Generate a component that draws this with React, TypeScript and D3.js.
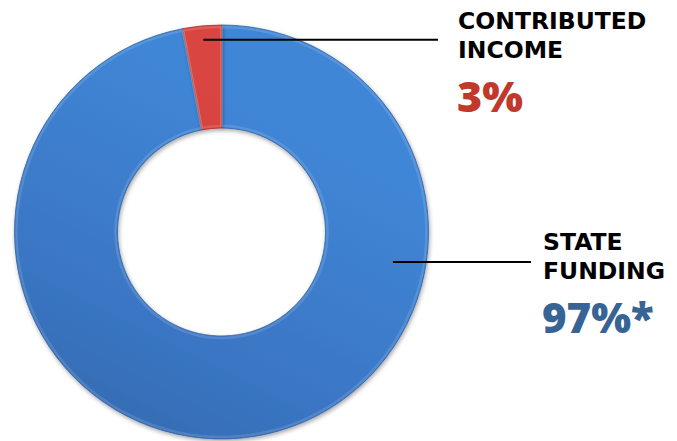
import React, { useEffect, useRef } from "react";
import * as d3 from "d3";

// share of funding, in percent
const categories = ["State Funding", "Contributed Income"];
const values = [97, 3];
const labelLines = [["STATE", "FUNDING"], ["CONTRIBUTED", "INCOME"]];
const valueLabels = ["97%*", "3%"];

const W = 677;
const H = 441;

export default function App() {
  const ref = useRef<SVGSVGElement | null>(null);

  useEffect(() => {
    const svg = d3.select(ref.current);
    svg.selectAll("*").remove();

    const cx = 221.5;
    const cy = 232;
    const outer = 207;
    const inner = 104;

    const colors = ["#3a76c4", "#cf3c37"];
    const dark = ["#3161a2", "#a92c28"];
    const light = ["#4086d6", "#d94540"];
    const textColors = ["#386395", "#c0392b"];

    const defs = svg.append("defs");
    colors.forEach((c, i) => {
      const g = defs
        .append("linearGradient")
        .attr("id", `grad${i}`)
        .attr("gradientUnits", "userSpaceOnUse")
        .attr("x1", cx + outer * 0.5)
        .attr("y1", cy - outer)
        .attr("x2", cx - outer * 0.5)
        .attr("y2", cy + outer);
      g.append("stop").attr("offset", "0%").attr("stop-color", light[i]);
      g.append("stop").attr("offset", "50%").attr("stop-color", c);
      g.append("stop").attr("offset", "100%").attr("stop-color", dark[i]);
    });
    const f = defs
      .append("filter")
      .attr("id", "shadow")
      .attr("x", "-10%")
      .attr("y", "-10%")
      .attr("width", "120%")
      .attr("height", "120%");
    f.append("feDropShadow")
      .attr("dx", 1)
      .attr("dy", 2)
      .attr("stdDeviation", 2)
      .attr("flood-color", "#000")
      .attr("flood-opacity", 0.35);

    const pie = d3
      .pie<number>()
      .sort(null)
      .value((d) => d);
    const arcs = pie(values);

    const arc = d3
      .arc<d3.PieArcDatum<number>>()
      .innerRadius(inner)
      .outerRadius(outer);

    const g = svg.append("g").attr("transform", `translate(${cx},${cy})`);

    g.selectAll("path.slice")
      .data(arcs)
      .join("path")
      .attr("class", "slice")
      .attr("d", arc)
      .attr("fill", (_, i) => `url(#grad${i})`)
      .attr("stroke", (_, i) => dark[i])
      .attr("stroke-width", 0.8)
      .attr("filter", "url(#shadow)");

    // soft bevel highlight along the edges
    g.selectAll("path.bevel")
      .data(arcs)
      .join("path")
      .attr("class", "bevel")
      .attr(
        "d",
        d3
          .arc<d3.PieArcDatum<number>>()
          .innerRadius(inner + 2)
          .outerRadius(outer - 2)
      )
      .attr("fill", "none")
      .attr("stroke", "rgba(255,255,255,0.13)")
      .attr("stroke-width", 2.5);

    const layout = [
      { angle: (99.9 * Math.PI) / 180, r: 174, lineEnd: 531, tx: 543, ty: 250, vy: 333, vsize: 42 },
      { angle: (arcs[1].startAngle + arcs[1].endAngle) / 2, r: 193, lineEnd: 438, tx: 458, ty: 29, vy: 112, vsize: 43 },
    ];

    layout.forEach((L, i) => {
      const [px, py] = d3.pointRadial(L.angle, L.r);
      svg
        .append("line")
        .attr("x1", cx + px)
        .attr("y1", cy + py)
        .attr("x2", L.lineEnd)
        .attr("y2", cy + py)
        .attr("stroke", "#000")
        .attr("stroke-width", 2);

      const t = svg
        .append("text")
        .attr("x", L.tx)
        .attr("y", L.ty)
        .attr("font-family", "'DejaVu Sans', sans-serif")
        .attr("font-weight", 700)
        .attr("font-size", 23.5)
        .attr("fill", "#000");
      labelLines[i].forEach((s, k) => {
        t.append("tspan")
          .attr("x", L.tx)
          .attr("dy", k === 0 ? 0 : 29)
          .text(s);
      });

      svg
        .append("text")
        .attr("x", L.tx - 1)
        .attr("y", L.vy)
        .attr("font-family", "'Open Sans', sans-serif")
        .attr("font-weight", 800)
        .attr("font-size", L.vsize)
        .attr("fill", textColors[i])
        .text(valueLabels[i]);
    });
  }, []);

  return (
    <svg
      ref={ref}
      width={W}
      height={H}
      style={{ position: "absolute", left: 0, top: 0, background: "#fff" }}
      aria-label={categories.join(" vs ")}
    />
  );
}
